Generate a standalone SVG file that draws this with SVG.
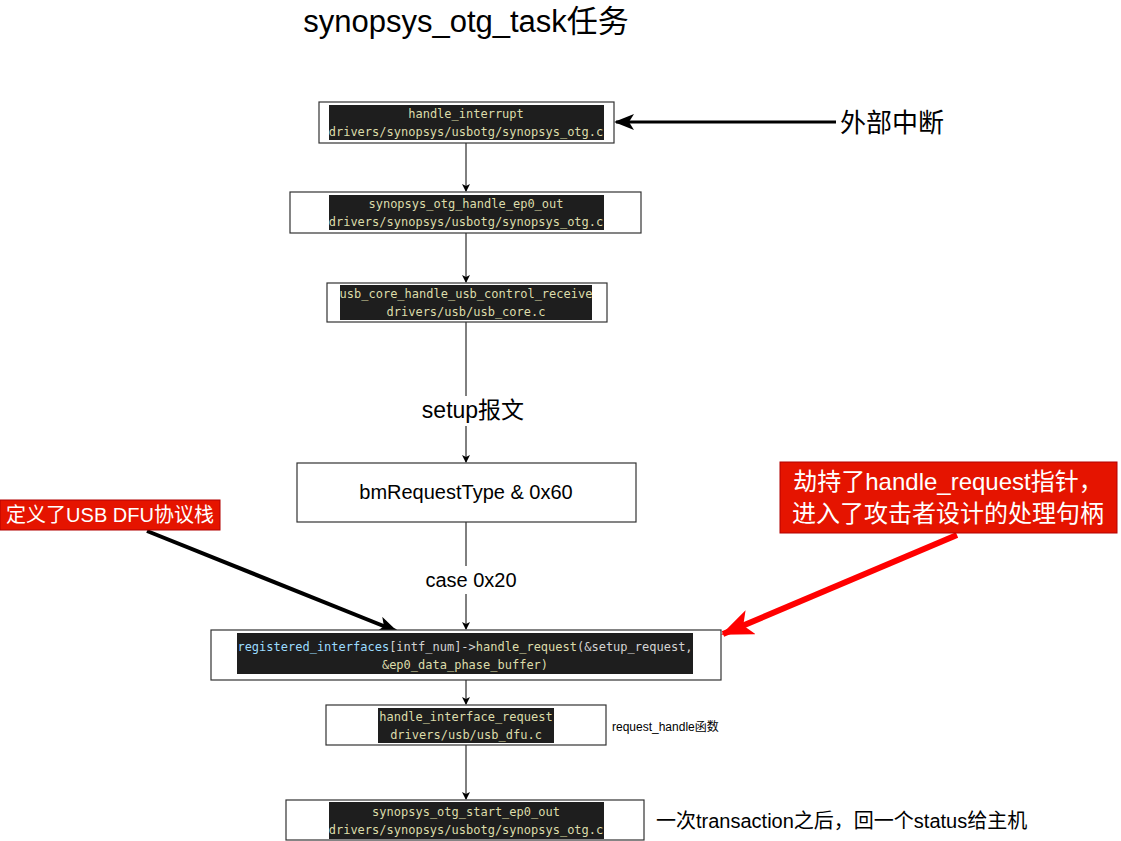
<svg xmlns="http://www.w3.org/2000/svg" width="1121" height="841" viewBox="0 0 1121 841">
<defs>
<style>
.box{fill:#fff;stroke:#333;stroke-width:1.2}
.code{fill:#1e1e1e}
.ct{font-family:"DejaVu Sans Mono","Liberation Mono",monospace;font-size:12px;fill:#dcdcaa;text-anchor:middle}
.lbl{font-family:"Liberation Sans","Noto Sans CJK SC",sans-serif;fill:#000}
.conn{stroke:#000;stroke-width:1;fill:none}
.red{fill:#e51400;stroke:#b20000;stroke-width:1}
.rt{font-family:"Liberation Sans","Noto Sans CJK SC",sans-serif;fill:#fff}
</style>
<marker id="ah" markerWidth="10" markerHeight="10" refX="7" refY="4" orient="auto" markerUnits="userSpaceOnUse">
<path d="M0,0 L8,4 L0,8 L2,4 Z" fill="#000"/>
</marker>
<marker id="ahBig" markerWidth="24" markerHeight="20" refX="18" refY="8" orient="auto" markerUnits="userSpaceOnUse">
<path d="M0,0 L20,8 L0,16 L5,8 Z" fill="#000"/>
</marker>
<marker id="ahRed" markerWidth="36" markerHeight="30" refX="30" refY="13" orient="auto" markerUnits="userSpaceOnUse">
<path d="M0,0 L32,13 L0,26 L8,13 Z" fill="#ff0000"/>
</marker>
</defs>
<rect width="1121" height="841" fill="#fff"/>

<text class="lbl" x="466" y="32" font-size="31" text-anchor="middle">synopsys_otg_task任务</text>

<g id="connectors">
<line class="conn" x1="466" y1="143" x2="466" y2="191" marker-end="url(#ah)"/>
<line class="conn" x1="466" y1="233" x2="466" y2="282" marker-end="url(#ah)"/>
<line class="conn" x1="466" y1="322" x2="466" y2="396"/>
<line class="conn" x1="466" y1="426" x2="466" y2="462" marker-end="url(#ah)"/>
<line class="conn" x1="466" y1="522" x2="466" y2="566"/>
<line class="conn" x1="466" y1="594" x2="466" y2="629" marker-end="url(#ah)"/>
<line class="conn" x1="466" y1="680" x2="466" y2="704" marker-end="url(#ah)"/>
<line class="conn" x1="466" y1="745" x2="466" y2="799" marker-end="url(#ah)"/>
<line x1="836" y1="122" x2="616" y2="122" stroke="#000" stroke-width="3" marker-end="url(#ahBig)"/>
<line x1="147" y1="531" x2="396" y2="631" stroke="#000" stroke-width="4" marker-end="url(#ahBig)"/>
<line x1="957" y1="535" x2="723" y2="634" stroke="#ff0000" stroke-width="6" marker-end="url(#ahRed)"/>
<rect x="416" y="397" width="114" height="28" fill="#fff"/>
<text class="lbl" x="473" y="418" font-size="23" text-anchor="middle">setup报文</text>
<rect x="424" y="568" width="96" height="24" fill="#fff"/>
<text class="lbl" x="471" y="587" font-size="20" text-anchor="middle">case 0x20</text>
</g>

<g id="n1">
<rect class="box" x="319" y="102" width="295" height="41"/>
<rect class="code" x="329" y="105" width="275" height="35"/>
<text class="ct" x="466" y="118">handle_interrupt</text>
<text class="ct" x="466" y="136">drivers/synopsys/usbotg/synopsys_otg.c</text>
</g>

<g id="ext">
<text class="lbl" x="840" y="132" font-size="26">外部中断</text>
</g>

<g id="n2">
<rect class="box" x="290" y="192" width="351" height="41"/>
<rect class="code" x="329" y="195" width="275" height="35"/>
<text class="ct" x="466" y="208">synopsys_otg_handle_ep0_out</text>
<text class="ct" x="466" y="226">drivers/synopsys/usbotg/synopsys_otg.c</text>
</g>

<g id="n3">
<rect class="box" x="327" y="283" width="280" height="39"/>
<rect class="code" x="340" y="285" width="252" height="35"/>
<text class="ct" x="466" y="298">usb_core_handle_usb_control_receive</text>
<text class="ct" x="466" y="316">drivers/usb/usb_core.c</text>
</g>

<g id="n4">
<rect class="box" x="297" y="463" width="339" height="59"/>
<text class="lbl" x="466" y="499" font-size="20" text-anchor="middle">bmRequestType &amp; 0x60</text>
</g>

<g id="n5">
<rect class="box" x="211" y="630" width="510" height="50"/>
<rect class="code" x="237" y="633" width="456" height="41"/>
<text class="ct" x="465" y="651"><tspan fill="#9cdcfe">registered_interfaces</tspan><tspan fill="#d4d4d4">[intf_num]-&gt;</tspan><tspan fill="#dcdcaa">handle_request</tspan><tspan fill="#d4d4d4">(&amp;setup_request,</tspan></text>
<text class="ct" x="465" y="669" fill="#d4d4d4">&amp;ep0_data_phase_buffer)</text>
</g>

<g id="n6">
<rect class="box" x="326" y="705" width="280" height="40"/>
<rect class="code" x="378" y="708" width="176" height="35"/>
<text class="ct" x="466" y="721">handle_interface_request</text>
<text class="ct" x="466" y="739">drivers/usb/usb_dfu.c</text>
</g>
<g id="n6label">
<text class="lbl" x="612" y="731" font-size="12">request_handle函数</text>
</g>

<g id="n7">
<rect class="box" x="286" y="800" width="358" height="40"/>
<rect class="code" x="329" y="802" width="275" height="37"/>
<text class="ct" x="466" y="816">synopsys_otg_start_ep0_out</text>
<text class="ct" x="466" y="834">drivers/synopsys/usbotg/synopsys_otg.c</text>
</g>
<g id="n7label">
<text class="lbl" x="656" y="828" font-size="20">一次transaction之后，回一个status给主机</text>
</g>

<g id="red1">
<rect class="red" x="0" y="500" width="220" height="30"/>
<text class="rt" x="110" y="522" font-size="20" text-anchor="middle">定义了USB DFU协议栈</text>
</g>

<g id="red2">
<rect class="red" x="780" y="462" width="337" height="71"/>
<text class="rt" x="948" y="490" font-size="24" text-anchor="middle">劫持了handle_request指针，</text>
<text class="rt" x="948" y="522" font-size="24" text-anchor="middle">进入了攻击者设计的处理句柄</text>
</g>
</svg>
